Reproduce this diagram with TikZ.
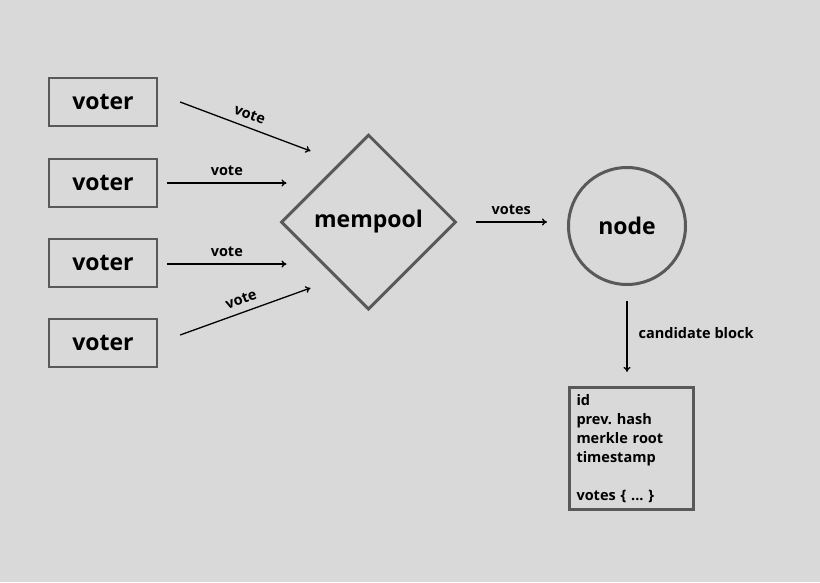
\documentclass[tikz,border=0pt]{standalone}
\usepackage{fontspec}
\setmainfont{Open Sans}
\usetikzlibrary{shapes.geometric,arrows.meta}

\definecolor{bgGray}{HTML}{D9D9D9}
\definecolor{lineGray}{HTML}{595959}

\begin{document}
\begin{tikzpicture}[x=1pt,y=-1pt,
	voterbox/.style={draw=lineGray, line width=2.2pt, minimum width=108pt, minimum height=48pt, font=\bfseries\fontsize{23}{27}\selectfont},
	bigshape/.style={draw=lineGray, line width=3pt, font=\bfseries\fontsize{23}{27}\selectfont},
	arr/.style={-{To[length=5pt,width=7pt]}, line width=1.3pt},
	lbl/.style={font=\bfseries\fontsize{14.5}{17}\selectfont, inner sep=2pt}]
	\fill[bgGray] (0,0) rectangle (820,582);
	\frenchspacing
	% voters
	\node[voterbox] (v1) at (103,102) {voter};
	\node[voterbox] (v2) at (103,183) {voter};
	\node[voterbox] (v3) at (103,263) {voter};
	\node[voterbox] (v4) at (103,343) {voter};
	% mempool, node and block
	\node[bigshape, diamond, aspect=1, minimum size=175pt, inner sep=0pt] (mp) at (368.5,222) {mempool};
	\node[bigshape, circle, minimum size=117pt] (nd) at (627,226) {node};
	\node[draw=lineGray, line width=3.2pt, minimum width=124pt, minimum height=122pt, text width=110pt, align=left, inner xsep=7pt,
		font=\bfseries\fontsize{14.5}{19}\selectfont] (blk) at (631.5,448.5)
		{id\\prev. hash\\merkle root\\timestamp\\[19pt]votes \{ ... \}};
	% arrows
	\draw[arr] ([xshift=22pt]v1.east) -- node[lbl, sloped, above=5pt] {vote} ([shift={(31,-71)}]mp.west);
	\draw[arr] ([xshift=9pt]v2.east) -- node[lbl, above=5pt] {vote} ([shift={(7,-39)}]mp.west);
	\draw[arr] ([shift={(9,1)}]v3.east) -- node[lbl, above=5pt] {vote} ([shift={(7,42)}]mp.west);
	\draw[arr] ([shift={(22,-8)}]v4.east) -- node[lbl, sloped, above=5pt] {vote} ([shift={(31,66)}]mp.west);
	\draw[arr] ([xshift=18pt]mp.east) -- node[lbl, above=5pt] {votes} ([xshift=-20pt]mp.east -| nd.west);
	\draw[arr] ([yshift=-15pt]nd.south) -- node[lbl, right=9pt, yshift=3pt] {candidate block} ([yshift=14pt]nd.south |- blk.north);
\end{tikzpicture}
\end{document}
